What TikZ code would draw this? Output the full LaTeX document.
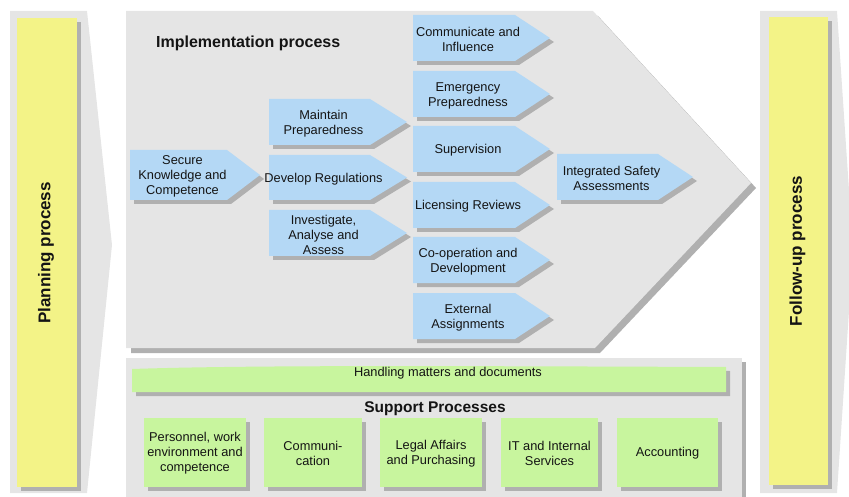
\documentclass[tikz,border=0pt]{standalone}
\usepackage{fontspec}
\setmainfont{Liberation Sans}
\usetikzlibrary{shadows}

\definecolor{panelgray}{RGB}{229,229,229}
\definecolor{shadowgray}{RGB}{176,176,176}
\definecolor{procblue}{RGB}{180,216,245}
\definecolor{supgreen}{RGB}{200,245,158}
\definecolor{phaseyellow}{RGB}{243,243,135}
\definecolor{inktext}{RGB}{20,20,20}

\tikzset{
  shad/.style={general shadow={fill=shadowgray, shadow xshift=#1, shadow yshift=-#1}},
  shad/.default=4pt,
  panel/.style={fill=panelgray},
  chevfill/.style={fill=procblue, shad},
  greenbox/.style={fill=supgreen, shad},
  yellowbox/.style={fill=phaseyellow, shad},
  bodytext/.style={inner sep=0pt, align=center, text=inktext,
    font=\fontsize{12.8}{15}\selectfont},
  headtext/.style={inner sep=0pt, text=inktext,
    font=\fontsize{16}{18}\selectfont\bfseries},
  phasetext/.style={inner sep=0pt, text=inktext, rotate=90,
    font=\fontsize{17}{19}\selectfont\bfseries},
}

% name, left x, top y, flat length, height, tip depth, label
\newcommand\procarrow[7]{%
  \fill[chevfill] (#2,#3) -- ({#2+#4},#3) -- ({#2+#4+#6},{#3+#5/2})
    -- ({#2+#4},{#3+#5}) -- (#2,{#3+#5}) -- cycle;
  \node[bodytext] (#1) at ({#2+#4/2+4},{#3+#5/2+1.5}) {#7};
}
% name, left x, right x, label
\newcommand\supportbox[4]{%
  \fill[greenbox] (#2,418) rectangle (#3,487);
  \node[bodytext] (#1) at ({(#2+#3)/2},453.5) {#4};
}

\begin{document}
\begin{tikzpicture}[x=1pt,y=-1pt]
\useasboundingbox (0,0) rectangle (849,497);
\clip (0,0) rectangle (849,497);

% planning phase
\fill[panel] (10,11) -- (87,11) -- (112,245) -- (87,493) -- (10,493) -- cycle;
\fill[yellowbox] (17,18) rectangle (77,487);
\node[phasetext] (planning) at (46,253) {Planning process};

% follow-up phase
\fill[panel] (760,11) -- (837,11) -- (853,250) -- (837,493) -- (760,493) -- cycle;
\fill[yellowbox] (769,17) rectangle (828,485);
\node[phasetext] (followup) at (797.5,251) {Follow-up process};

% implementation panel
\fill[panel, shad=5pt] (126,11) -- (593,11) -- (751,183) -- (595,348) -- (126,348) -- cycle;
\node[headtext, anchor=west] (impl) at (156,43) {Implementation process};

\procarrow{secure}{130}{150}{97}{50}{33}{Secure\\Knowledge and\\Competence}
\procarrow{maintain}{269}{99}{101}{46}{37}{Maintain\\Preparedness}
\procarrow{develop}{269}{155}{101}{45}{37}{Develop Regulations}
\procarrow{investigate}{269}{210}{101}{46}{37}{Investigate,\\Analyse and\\Assess}

\procarrow{communicate}{413}{15}{102}{46}{35}{Communicate and\\Influence}
\procarrow{emergency}{413}{71}{102}{46}{35}{Emergency\\Preparedness}
\procarrow{supervision}{413}{126}{102}{46}{35}{Supervision}
\procarrow{licensing}{413}{182}{102}{46}{35}{Licensing Reviews}
\procarrow{cooperation}{413}{237}{102}{46}{35}{Co-operation and\\Development}
\procarrow{external}{413}{293}{102}{46}{35}{External\\Assignments}

\procarrow{integrated}{557}{154}{101}{46}{35}{Integrated Safety\\Assessments}

% support panel
\fill[panel, shad] (126,358) rectangle (742,505);
\fill[greenbox] (132,369) .. controls (250,365) and (450,366) .. (726,367)
  -- (726,392) -- (132,392) -- cycle;
\node[bodytext] (handling) at (448,373) {Handling matters and documents};
\node[headtext, font=\fontsize{15.5}{18}\selectfont\bfseries] (support) at (435,409) {Support Processes};

\supportbox{personnel}{144}{246}{Personnel, work\\environment and\\competence}
\supportbox{communication}{264}{362}{Communi-\\cation}
\supportbox{legal}{380}{482}{Legal Affairs\\and Purchasing}
\supportbox{itservices}{501}{598}{IT and Internal\\Services}
\supportbox{accounting}{617}{718}{Accounting}
\end{tikzpicture}
\end{document}
